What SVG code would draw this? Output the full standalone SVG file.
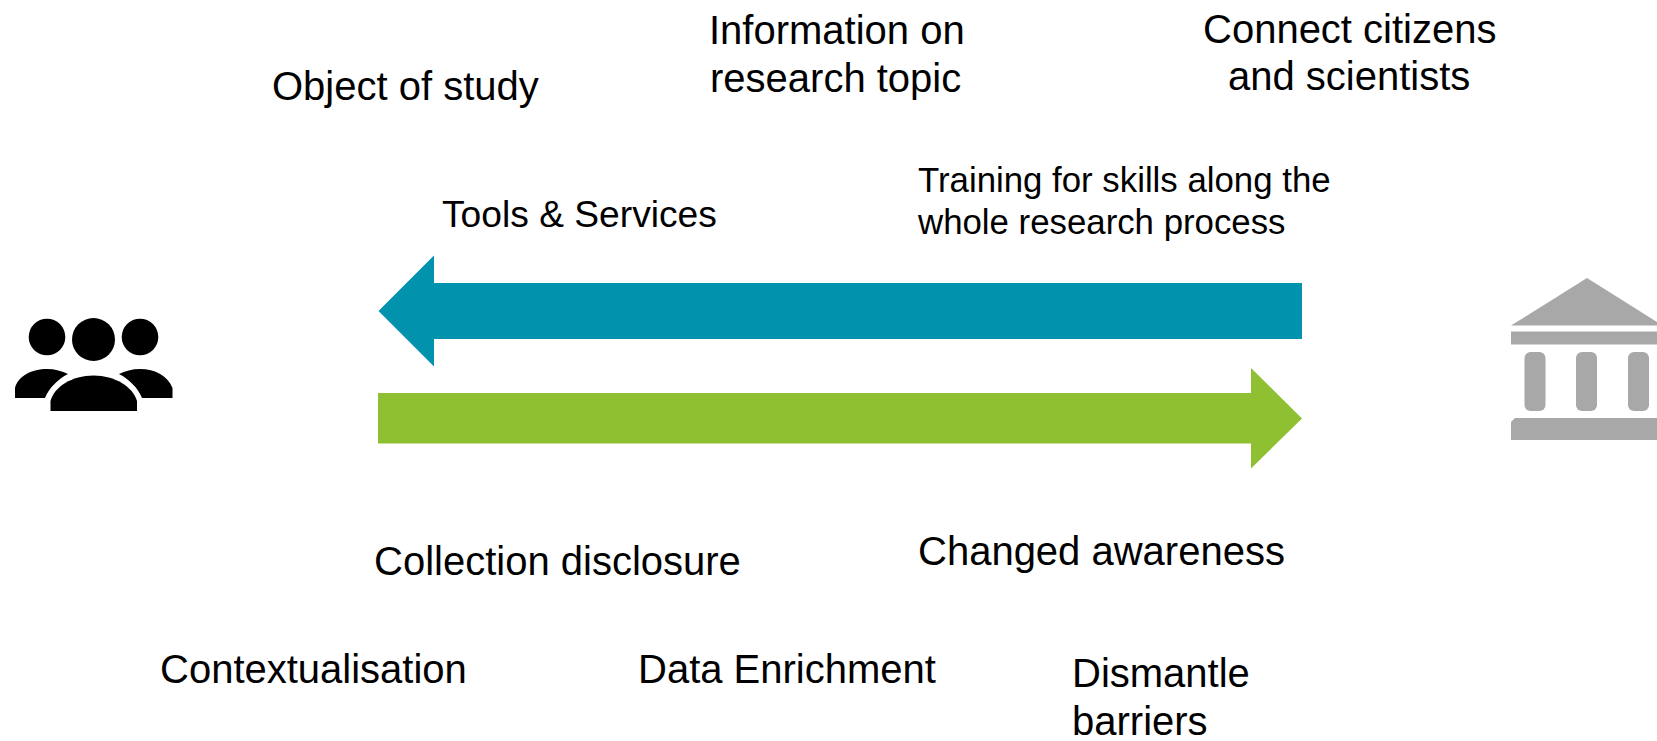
<svg xmlns="http://www.w3.org/2000/svg" width="1657" height="741" viewBox="0 0 1657 741">
<style>
text{font-family:"Liberation Sans",Arial,sans-serif;font-size:40px;fill:#000}
.s{font-size:34.8px}
.t{font-size:37.2px}
.b{fill:#a8a8a8}
</style>
<rect width="1657" height="741" fill="#fff"/>
<g id="connectors">
<path id="arrow-blue" fill="#0192ae" d="M378.5 311L434 255.5V283H1302V339H434V366.5Z"/>
<path id="arrow-green" fill="#8fc031" d="M378 393H1251V368L1302 418.5L1251 468.500V443.500H378Z"/>
</g>
<g id="people">
<circle cx="47" cy="337" r="18.3"/><circle cx="93.5" cy="339.5" r="21.5"/><circle cx="140" cy="337" r="18.3"/>
<path d="M15 398V388C18 376 32 369 47 369C55 369 62 371 68 374C58 379 49 388 45 398Z"/>
<path d="M50.500 411V401C54 387 72 375.500 93.500 375.500C115 375.500 133 387 137 401V411Z"/>
<path d="M119 374C125 371 132 369 140 369C155 369 168 376 172.500 388V398H142C138 388 129 379 119 374Z"/>
</g>
<g id="institution">
<path class="b" d="M1511 325.500L1587 278L1657 322V325.500Z"/>
<rect class="b" x="1511" y="331.500" width="146" height="13"/>
<rect class="b" x="1524.500" y="352" width="21" height="59" rx="6"/>
<rect class="b" x="1576" y="352" width="21" height="59" rx="6"/>
<rect class="b" x="1628" y="352" width="21" height="59" rx="6"/>
<path class="b" d="M1515 418H1657V440H1511V422Z"/>
</g>
<g id="labels">
<text x="272" y="100">Object of study</text>
<text x="709" y="44">Information on</text>
<text x="710" y="92">research topic</text>
<text x="1203" y="43">Connect citizens</text>
<text x="1228" y="90">and scientists</text>
<text class="s" x="918" y="192">Training for skills along the</text>
<text class="s" x="918" y="234">whole research process</text>
<text class="t" x="442" y="227">Tools &amp; Services</text>
<text x="374" y="575">Collection disclosure</text>
<text x="918" y="565">Changed awareness</text>
<text x="160" y="683">Contextualisation</text>
<text x="638" y="683">Data Enrichment</text>
<text x="1072" y="687">Dismantle</text>
<text x="1072" y="735">barriers</text>
</g>
</svg>
